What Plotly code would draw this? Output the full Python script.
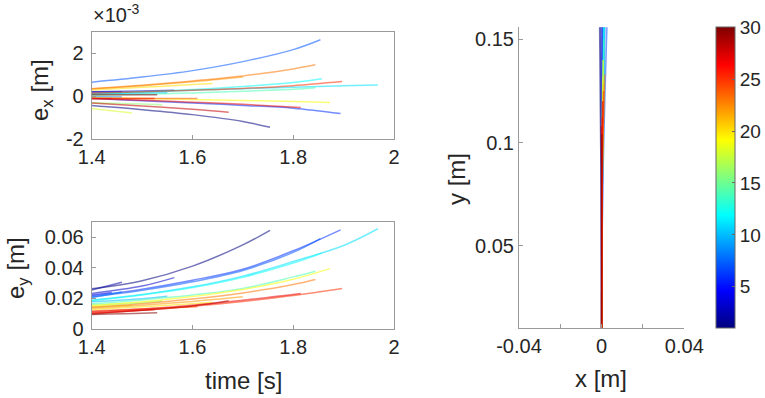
import plotly.graph_objects as go

# ---------------- data ----------------
# colour index of each trajectory (value on the colour bar, 1..30)
traj_idx = [1, 2, 3, 4, 6, 7, 8, 10, 11, 12, 14, 16, 18, 19, 20, 22, 23, 24, 25, 26, 27, 28, 30]

# time samples [s]
traj_t = [
    [1.4, 1.5, 1.6, 1.7, 1.754],
    [1.4, 1.46],
    [1.4, 1.5, 1.564],
    [1.4, 1.44],
    [1.4, 1.5, 1.6, 1.7, 1.8, 1.894],
    [1.4, 1.5, 1.6, 1.7, 1.8, 1.854],
    [1.4, 1.46],
    [1.4, 1.5, 1.55],
    [1.4, 1.5, 1.6, 1.7, 1.8, 1.9, 1.968],
    [1.4, 1.5, 1.6, 1.7, 1.8, 1.857],
    [1.4, 1.5, 1.6, 1.7, 1.8, 1.844],
    [1.4, 1.5, 1.54],
    [1.4, 1.48],
    [1.4, 1.5, 1.6, 1.7, 1.8, 1.873],
    [1.4, 1.5, 1.6, 1.64],
    [1.4, 1.5, 1.6, 1.7],
    [1.4, 1.5, 1.6, 1.7, 1.8, 1.844],
    [1.4, 1.5, 1.61],
    [1.4, 1.5, 1.6, 1.7, 1.8, 1.897],
    [1.4, 1.525],
    [1.4, 1.5, 1.6, 1.7, 1.815],
    [1.4, 1.5, 1.6, 1.672],
    [1.4, 1.5, 1.53],
]

# e_x [x 1e-3 m]
traj_ex_milli = [
    [-0.43, -0.62, -0.85, -1.17, -1.44],
    [0.2, 0.2],
    [0.22, 0.25, 0.28],
    [-0.08, -0.1],
    [-0.1, -0.2, -0.31, -0.42, -0.55, -0.8],
    [0.66, 0.9, 1.2, 1.62, 2.18, 2.64],
    [-0.02, -0.03],
    [0.12, 0.15, 0.17],
    [0.12, 0.2, 0.28, 0.36, 0.43, 0.49, 0.53],
    [0.1, 0.2, 0.32, 0.46, 0.65, 0.82],
    [0.05, 0.1, 0.16, 0.24, 0.33, 0.4],
    [-0.3, -0.36, -0.4],
    [-0.57, -0.78],
    [-0.05, -0.1, -0.15, -0.19, -0.24, -0.28],
    [0.3, 0.42, 0.55, 0.6],
    [0.36, 0.5, 0.68, 0.9],
    [0.36, 0.52, 0.72, 0.95, 1.28, 1.47],
    [-0.1, -0.1, -0.1],
    [0.15, 0.22, 0.29, 0.37, 0.5, 0.69],
    [-0.1, -0.1],
    [-0.1, -0.18, -0.27, -0.37, -0.52],
    [-0.31, -0.45, -0.6, -0.74],
    [0.08, 0.08, 0.08],
]

# e_y [m]
traj_ey = [
    [0.0262, 0.0315, 0.041, 0.0549, 0.0643],
    [0.0255, 0.0305],
    [0.0232, 0.028, 0.0335],
    [0.0222, 0.0238],
    [0.0215, 0.026, 0.0318, 0.039, 0.051, 0.0647],
    [0.0208, 0.0252, 0.0308, 0.0382, 0.05, 0.059],
    [0.0205, 0.0242],
    [0.0178, 0.0198, 0.0214],
    [0.0188, 0.0225, 0.0275, 0.0345, 0.044, 0.0545, 0.0654],
    [0.0185, 0.0222, 0.027, 0.0338, 0.043, 0.0495],
    [0.0165, 0.019, 0.0222, 0.0265, 0.034, 0.0377],
    [0.0158, 0.0172, 0.0182],
    [0.0145, 0.0155],
    [0.0152, 0.0178, 0.0212, 0.0258, 0.0325, 0.0394],
    [0.0128, 0.0145, 0.0165, 0.0175],
    [0.0135, 0.0155, 0.018, 0.021],
    [0.0142, 0.0165, 0.0195, 0.0235, 0.029, 0.0323],
    [0.0118, 0.013, 0.0145],
    [0.0105, 0.0123, 0.0148, 0.018, 0.0218, 0.0264],
    [0.0102, 0.0128],
    [0.0112, 0.013, 0.0155, 0.0188, 0.0232],
    [0.0098, 0.0122, 0.015, 0.0184],
    [0.0095, 0.0102, 0.0106],
]

# x-y paths [m]
traj_px = [
    [0, -0.0003, -0.0013],
    [0, -0.0001, -0.0006],
    [0, 0.0001, 0.0004],
    [0, 0.0, 0.0002],
    [0, 0.0004, 0.0022],
    [0, 0.0006, 0.0036],
    [0, 0.0001, 0.0008],
    [0, 0.0002, 0.001],
    [0, 0.0003, 0.0019],
    [0, 0.0003, 0.0014],
    [0, 0.0003, 0.0011],
    [0, 0.0001, 0.0006],
    [0, 0.0001, 0.0005],
    [0, 0.0002, 0.0008],
    [0, 0.0002, 0.0009],
    [0, 0.0003, 0.0012],
    [0, 0.0003, 0.0015],
    [0, 0.0001, 0.0004],
    [0, 0.0002, 0.0009],
    [0, 0.0, 0.0002],
    [0, 0.0001, 0.0006],
    [0, 0.0, -0.0002],
    [0, 0.0, 0.0001],
]
traj_py = [
    [0.0, 0.08, 0.19],
    [0.0, 0.08, 0.175],
    [0.0, 0.08, 0.17],
    [0.0, 0.08, 0.165],
    [0.0, 0.08, 0.2],
    [0.0, 0.08, 0.19],
    [0.0, 0.08, 0.165],
    [0.0, 0.08, 0.16],
    [0.0, 0.08, 0.2],
    [0.0, 0.08, 0.18],
    [0.0, 0.08, 0.15],
    [0.0, 0.08, 0.14],
    [0.0, 0.08, 0.132],
    [0.0, 0.08, 0.14],
    [0.0, 0.08, 0.13],
    [0.0, 0.08, 0.128],
    [0.0, 0.08, 0.133],
    [0.0, 0.08, 0.12],
    [0.0, 0.08, 0.125],
    [0.0, 0.08, 0.112],
    [0.0, 0.08, 0.12],
    [0.0, 0.08, 0.108],
    [0.0, 0.08, 0.104],
]

cbar_ticks = [5, 10, 15, 20, 25, 30]
cmin, cmax = 1, 30

# ---------------- style ----------------
W, H = 765, 398
FONT = "Liberation Sans, Arial, sans-serif"
TXT = "#262626"
AX = "#9a9a9a"
ALPHA = 0.55


def jet_rgb(v):
    def c(x):
        return max(0.0, min(1.0, x))
    return (c(1.5 - abs(4 * v - 3)), c(1.5 - abs(4 * v - 2)), c(1.5 - abs(4 * v - 1)))


def color_of(idx, a=ALPHA):
    r, g, b = jet_rgb((idx - cmin) / (cmax - cmin))
    return f"rgba({int(r*255)},{int(g*255)},{int(b*255)},{a})"


jet_scale = []
for k in range(17):
    v = k / 16
    r, g, b = jet_rgb(v)
    jet_scale.append([v, f"rgb({int(r*255)},{int(g*255)},{int(b*255)})"])


def px_x(p):
    return p / W


def px_y(p):
    return 1 - p / H


fig = go.Figure()

for i, idx in enumerate(traj_idx):
    col = color_of(idx)
    ex_m = [v * 1e-3 for v in traj_ex_milli[i]]
    fig.add_trace(go.Scatter(x=traj_t[i], y=ex_m, mode="lines", line=dict(color=col, width=1.5, shape="spline"),
                             xaxis="x", yaxis="y", showlegend=False, hoverinfo="skip"))
    fig.add_trace(go.Scatter(x=traj_t[i], y=traj_ey[i], mode="lines", line=dict(color=col, width=1.5, shape="spline"),
                             xaxis="x2", yaxis="y2", showlegend=False, hoverinfo="skip"))
    fig.add_trace(go.Scatter(x=traj_px[i], y=traj_py[i], mode="lines", line=dict(color=col, width=1.5, shape="spline"),
                             xaxis="x3", yaxis="y3", showlegend=False, hoverinfo="skip"))

# colour bar carrier
fig.add_trace(go.Scatter(
    x=[0], y=[-1], mode="markers", xaxis="x3", yaxis="y3", showlegend=False, hoverinfo="skip",
    marker=dict(size=1, opacity=0, color=[cmin], cmin=cmin, cmax=cmax, colorscale=jet_scale, showscale=True,
                colorbar=dict(x=px_x(715.7), xanchor="left", y=px_y(177.8), yanchor="middle",
                              thickness=19, thicknessmode="pixels", len=301, lenmode="pixels",
                              xpad=0, ypad=0, outlinewidth=1, outlinecolor="#666666",
                              tickvals=cbar_ticks, ticks="inside", ticklen=3, tickcolor="#666666",
                              tickfont=dict(family=FONT, size=19, color=TXT))),
))

common = dict(showgrid=False, zeroline=False, showline=True, linecolor=AX, linewidth=1, automargin=False,
              ticks="inside", ticklen=4, tickcolor=AX, tickfont=dict(family=FONT, size=20, color=TXT))

fig.update_layout(
    width=W, height=H, autosize=False,
    margin=dict(l=0, r=0, t=0, b=0, pad=0, autoexpand=False),
    paper_bgcolor="white", plot_bgcolor="white",
    xaxis=dict(domain=[px_x(91.7), px_x(394)], range=[1.4, 2.0], anchor="y", mirror=True,
               tickvals=[1.4, 1.6, 1.8, 2.0], ticktext=["1.4", "1.6", "1.8", "2"], **common),
    yaxis=dict(domain=[px_y(139.3), px_y(32)], range=[-0.002, 0.003], anchor="x", mirror=True,
               tickvals=[-0.002, 0, 0.002], ticktext=["-2", "0", "2"], ticklabelstandoff=3, **common),
    xaxis2=dict(domain=[px_x(91.7), px_x(394)], range=[1.4, 2.0], anchor="y2", mirror=True,
                tickvals=[1.4, 1.6, 1.8, 2.0], ticktext=["1.4", "1.6", "1.8", "2"], **common),
    yaxis2=dict(domain=[px_y(329), px_y(221.7)], range=[0, 0.07], anchor="x2", mirror=True,
                tickvals=[0, 0.02, 0.04, 0.06], ticktext=["0", "0.02", "0.04", "0.06"], ticklabelstandoff=3,
                **common),
    xaxis3=dict(domain=[px_x(519), px_x(684.3)], range=[-0.04, 0.04], anchor="y3", mirror=False,
                tickvals=[-0.04, -0.02, 0, 0.02, 0.04], ticktext=["-0.04", "", "0", "", "0.04"], **common),
    yaxis3=dict(domain=[px_y(328.3), px_y(27.3)], range=[0.01, 0.1558], anchor="x3", mirror=False,
                tickvals=[0.05, 0.1, 0.15], ticktext=["0.05", "0.1", "0.15"], **common),
)

tfont = dict(family=FONT, size=24, color=TXT)
ann = [
    dict(text="e<sub>x</sub> [m]", x=px_x(42), y=px_y(90), textangle=-90),
    dict(text="e<sub>y</sub> [m]", x=px_x(17), y=px_y(268), textangle=-90),
    dict(text="time [s]", x=px_x(243), y=px_y(380), textangle=0),
    dict(text="y [m]", x=px_x(456), y=px_y(179), textangle=-90),
    dict(text="x [m]", x=px_x(601), y=px_y(378), textangle=0),
]
for a in ann:
    fig.add_annotation(xref="paper", yref="paper", xanchor="center", yanchor="middle", showarrow=False,
                       font=tfont, **a)
fig.add_annotation(xref="paper", yref="paper", x=px_x(91), y=px_y(28), xanchor="left", yanchor="bottom",
                   showarrow=False, text="×10<sup>-3</sup>", font=dict(family=FONT, size=20, color=TXT))

fig.write_html("out.html", config={"displayModeBar": False},
               post_script="document.body.style.margin='0';document.body.style.overflow='hidden';")
